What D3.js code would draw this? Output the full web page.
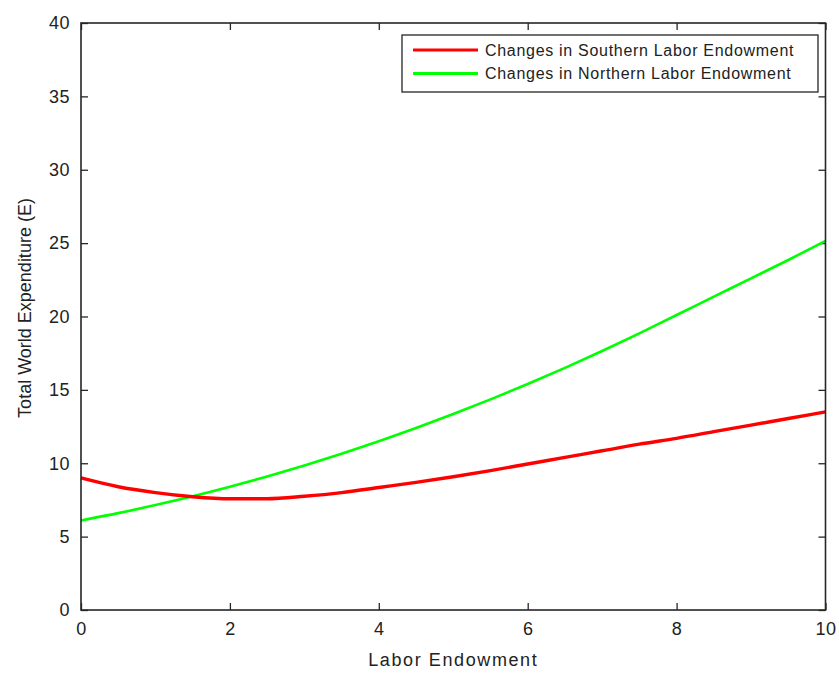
<!DOCTYPE html>
<html><head><meta charset="utf-8">
<script src="https://cdn.jsdelivr.net/npm/d3@7"></script>
<style>
html,body{margin:0;padding:0;background:#fff;}
text{font-family:"Liberation Sans",Arial,sans-serif;fill:#222;}
</style></head>
<body><svg id="c" width="839" height="673"></svg>
<script>
const xValues = [0,0.5,1,1.5,2,2.5,3,3.5,4,4.5,5,5.5,6,6.5,7,7.5,8,8.5,9,9.5,10];
const southern = [9.0,8.4,8.0,7.72,7.58,7.58,7.75,8.0,8.35,8.7,9.08,9.5,9.95,10.4,10.85,11.3,11.7,12.15,12.6,13.05,13.5];
const northern = [6.1,6.6,7.15,7.75,8.4,9.1,9.85,10.65,11.5,12.4,13.35,14.35,15.4,16.5,17.65,18.85,20.1,21.35,22.6,23.85,25.15];
const xTicks = [0,2,4,6,8,10];
const yTicks = [0,5,10,15,20,25,30,35,40];
const seriesNames = ["Changes in Southern Labor Endowment","Changes in Northern Labor Endowment"];
const seriesColors = ["#ff0000","#00ff00"];
const xLabel = "Labor Endowment";
const yLabel = "Total World Expenditure (E)";

const L=81, R=825.5, T=23, B=610;
const svg=d3.select("#c");
const x=d3.scaleLinear().domain([0,10]).range([L,R]);
const y=d3.scaleLinear().domain([0,40]).range([B,T]);
const fs=18, tk=7, axCol="#262626";

function styleAxis(g){g.select(".domain").remove();g.selectAll(".tick line").attr("stroke",axCol).attr("stroke-width",1.3);}
svg.append("g").attr("transform",`translate(0,${B})`).call(d3.axisBottom(x).tickValues(xTicks).tickSize(-tk).tickPadding(tk+5).tickFormat(d3.format("d")))
  .call(styleAxis).selectAll("text").attr("font-size",fs).attr("fill","#222").style("font-family","Liberation Sans, Arial").style("letter-spacing","0.5px");
svg.append("g").attr("transform",`translate(0,${T})`).call(d3.axisTop(x).tickValues(xTicks).tickSize(-tk).tickFormat(""))
  .call(styleAxis);
svg.append("g").attr("transform",`translate(${L},0)`).call(d3.axisLeft(y).tickValues(yTicks).tickSize(-tk).tickPadding(tk+4).tickFormat(d3.format("d")))
  .call(styleAxis).selectAll("text").attr("font-size",fs).attr("fill","#222").style("font-family","Liberation Sans, Arial").style("letter-spacing","0.5px");
svg.append("g").attr("transform",`translate(${R},0)`).call(d3.axisRight(y).tickValues(yTicks).tickSize(-tk).tickFormat(""))
  .call(styleAxis);

const line=d3.line().x((d,i)=>x(xValues[i])).y(d=>y(d)).curve(d3.curveMonotoneX);
svg.append("path").datum(northern).attr("d",line).attr("fill","none").attr("stroke",seriesColors[1]).attr("stroke-width",2.6);
svg.append("path").datum(southern).attr("d",line).attr("fill","none").attr("stroke",seriesColors[0]).attr("stroke-width",3.4);

svg.append("rect").attr("x",L).attr("y",T).attr("width",R-L).attr("height",B-T).attr("fill","none").attr("stroke",axCol).attr("stroke-width",1.6);

svg.append("text").attr("x",(L+R)/2).attr("y",666).attr("text-anchor","middle").attr("font-size",fs).style("letter-spacing","1.6px").text(xLabel);
svg.append("text").attr("transform",`translate(31,${308}) rotate(-90)`).attr("text-anchor","middle").attr("font-size",fs).text(yLabel);

// legend
const lg=svg.append("g");
lg.append("rect").attr("x",402).attr("y",35).attr("width",416).attr("height",57).attr("fill","#fff").attr("stroke",axCol).attr("stroke-width",1.3);
const ly=[50,73.5];
seriesNames.forEach((n,i)=>{
  lg.append("line").attr("x1",413).attr("x2",478).attr("y1",ly[i]).attr("y2",ly[i]).attr("stroke",seriesColors[i]).attr("stroke-width",3.2);
  lg.append("text").attr("x",485).attr("y",ly[i]+5.5).attr("font-size",16).style("letter-spacing","0.7px").text(n);
});
</script></body></html>
